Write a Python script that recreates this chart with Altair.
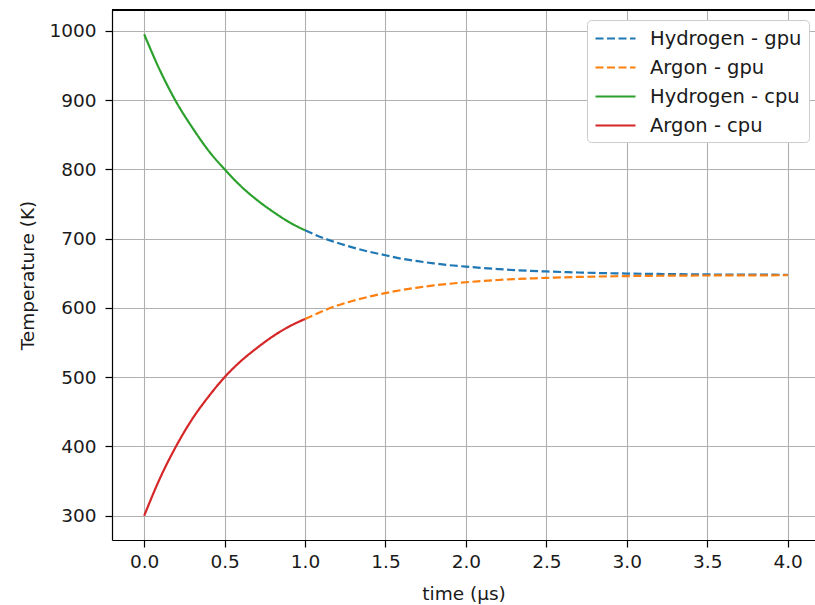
import altair as alt
import pandas as pd

# time axis (microseconds)
t_cpu = [0.0, 0.1, 0.2, 0.3, 0.4, 0.5, 0.6, 0.7, 0.8, 0.9, 1.0]
t_gpu = [1.0, 1.1, 1.2, 1.3, 1.4, 1.5, 1.6, 1.7, 1.8, 1.9, 2.0,
         2.1, 2.2, 2.3, 2.4, 2.5, 2.6, 2.7, 2.8, 2.9, 3.0,
         3.1, 3.2, 3.3, 3.4, 3.5, 3.6, 3.7, 3.8, 3.9, 4.0]

hydrogen_cpu = [995, 942, 897, 860, 827, 800, 776, 756, 739, 724, 712]
argon_cpu = [300, 355, 401, 440, 472, 500, 523, 542, 559, 573, 584]

hydrogen_gpu = [712, 702, 694, 687, 681, 676, 671, 667.4, 664.3, 661.6, 659.6,
                657.6, 656, 654.6, 653.5, 652.6, 651.8, 651.1, 650.5, 650, 649.6,
                649.3, 649, 648.7, 648.5, 648.3, 648.2, 648.1, 648, 647.9, 647.8]
argon_gpu = [584, 594.4, 603.4, 610.4, 616.4, 621.4, 625.8, 629.4, 632.4, 634.9, 637,
             638.8, 640.3, 641.5, 642.5, 643.4, 644.1, 644.7, 645.2, 645.6, 645.9,
             646.2, 646.4, 646.6, 646.7, 646.8, 646.9, 647, 647.1, 647.1, 647.2]

series_names = ["Hydrogen - gpu", "Argon - gpu", "Hydrogen - cpu", "Argon - cpu"]
series_colors = ["#1f77b4", "#ff7f0e", "#2ca02c", "#d62728"]
series_dash = [[8, 3.5], [8, 3.5], [1, 0], [1, 0]]

x_ticks = [0.0, 0.5, 1.0, 1.5, 2.0, 2.5, 3.0, 3.5, 4.0]
y_ticks = [300, 400, 500, 600, 700, 800, 900, 1000]

rows = []
for name, ts, vs in [
    ("Hydrogen - gpu", t_gpu, hydrogen_gpu),
    ("Argon - gpu", t_gpu, argon_gpu),
    ("Hydrogen - cpu", t_cpu, hydrogen_cpu),
    ("Argon - cpu", t_cpu, argon_cpu),
]:
    for i, (t, v) in enumerate(zip(ts, vs)):
        rows.append({"series": name, "time": t, "temp": v, "idx": i})
df = pd.DataFrame(rows)

W, H = 703, 530
FONT = "DejaVu Sans"

lines = alt.Chart(df).mark_line(strokeWidth=2.2, interpolate="monotone").encode(
    x=alt.X("time:Q",
            scale=alt.Scale(domain=[-0.2, 4.17], nice=False, zero=False),
            axis=alt.Axis(values=x_ticks, format=".1f", title="time (μs)",
                          titlePadding=14, labelPadding=5)),
    y=alt.Y("temp:Q",
            scale=alt.Scale(domain=[265, 1030], nice=False, zero=False),
            axis=alt.Axis(values=y_ticks, format="d", title="Temperature (K)",
                          labelPadding=9, titleX=-75, titleY=265)),
    color=alt.Color("series:N",
                    scale=alt.Scale(domain=series_names, range=series_colors),
                    legend=alt.Legend(title=None)),
    strokeDash=alt.StrokeDash("series:N",
                              scale=alt.Scale(domain=series_names, range=series_dash),
                              legend=alt.Legend(title=None)),
    detail="series:N",
    order="idx:Q",
)

top_spine = alt.Chart(df).mark_rule(color="black", strokeWidth=1.2).encode(
    x=alt.value(0), x2=alt.value(W), y=alt.value(0)
)

chart = alt.layer(lines, top_spine).properties(
    width=W, height=H,
    autosize=alt.AutoSizeParams(type="none"),
    padding={"left": 112, "top": 10, "right": 0, "bottom": 65},
).configure_view(
    stroke=None
).configure_axis(
    domainColor="black", domainWidth=1.2,
    tickColor="black", tickSize=7, tickWidth=1.2,
    gridColor="#b0b0b0", gridWidth=1.1,
    labelFont=FONT, labelFontSize=18.5, labelColor="#1a1a1a",
    titleFont=FONT, titleFontSize=18.5, titleColor="#1a1a1a", titleFontWeight="normal",
).configure_legend(
    orient="none", legendX=475, legendY=10,
    labelFont=FONT, labelFontSize=19.5, labelColor="#1a1a1a", labelLimit=400,
    symbolType="M-2,0H2", symbolSize=400, symbolStrokeWidth=2.2,
    symbolOffset=10, labelOffset=23, rowPadding=8,
    strokeColor="#cccccc", fillColor="white", cornerRadius=4,
    padding=7,
)

chart.save("out.html", embed_options={"renderer": "svg", "actions": False})
